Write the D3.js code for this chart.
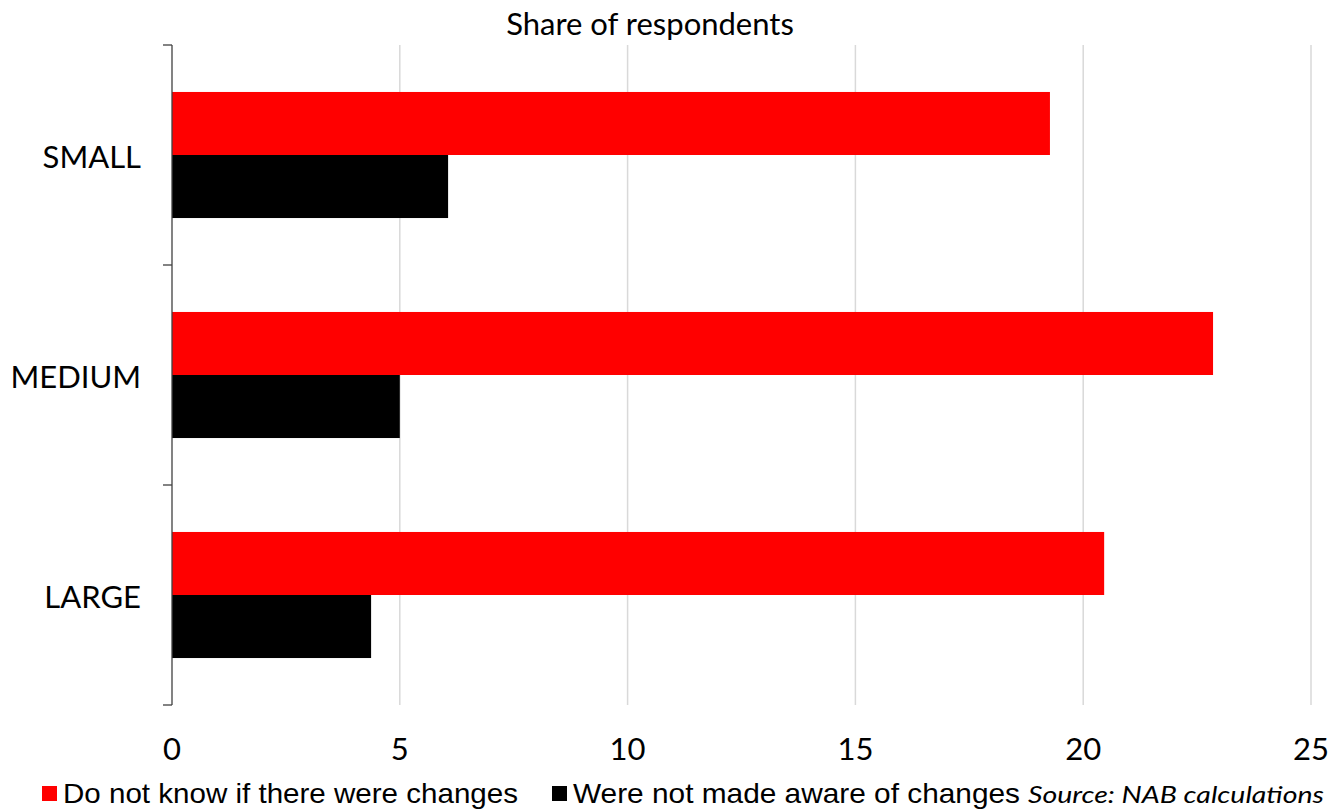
<!DOCTYPE html>
<html><head><meta charset="utf-8">
<script src="https://cdn.jsdelivr.net/npm/d3@7"></script>
<style>body{margin:0;background:#fff}svg{display:block}</style>
</head><body>
<script>
const categories = ["SMALL", "MEDIUM", "LARGE"];
const seriesNames = ["Do not know if there were changes", "Were not made aware of changes"];
const dontKnow = [19.27, 22.85, 20.46];
const notAware = [6.06, 5.0, 4.37];
const xTicks = [0, 5, 10, 15, 20, 25];
const colors = ["#ff0000", "#000000"];

const W = 1333, H = 811;
const m = {left: 172, right: 1311, top: 45, bottom: 705};
const svg = d3.select("body").append("svg").attr("width", W).attr("height", H);

const x = d3.scaleLinear().domain([0, 25]).range([m.left, m.right]);
const y = d3.scaleBand().domain(categories).range([m.top, m.bottom]).paddingInner(0.427).paddingOuter(0.2135);
const y1 = d3.scaleBand().domain([0, 1]).range([0, y.bandwidth()]);

// gridlines
svg.append("g").selectAll("line").data(xTicks.slice(1)).join("line")
  .attr("x1", d => x(d)).attr("x2", d => x(d))
  .attr("y1", m.top).attr("y2", m.bottom)
  .attr("stroke", "#d9d9d9").attr("stroke-width", 1.5);

// bars
const data = categories.map((c, i) => ({c, v: [dontKnow[i], notAware[i]]}));
svg.append("g").selectAll("g").data(data).join("g")
  .attr("transform", d => `translate(0,${y(d.c)})`)
  .selectAll("rect").data(d => d.v).join("rect")
  .attr("x", x(0)).attr("y", (d, i) => y1(i))
  .attr("width", d => x(d) - x(0)).attr("height", y1.bandwidth())
  .attr("fill", (d, i) => colors[i]);

// y axis line and ticks
svg.append("line").attr("x1", x(0)).attr("x2", x(0)).attr("y1", m.top).attr("y2", m.bottom)
  .attr("stroke", "#404040").attr("stroke-width", 1.3);
const bounds = [m.top].concat(categories.map(c => y(c) - y.step() * y.paddingOuter() + y.step()));
svg.append("g").selectAll("line").data(bounds).join("line")
  .attr("x1", x(0) - 9).attr("x2", x(0)).attr("y1", d => d).attr("y2", d => d)
  .attr("stroke", "#404040").attr("stroke-width", 1.3);

const font = "Lato, 'Open Sans', sans-serif";
// category labels
svg.append("g").selectAll("text").data(categories).join("text")
  .attr("x", 141).attr("y", d => y(d) + y.bandwidth() / 2 + 2)
  .attr("dy", "0.35em").attr("text-anchor", "end")
  .attr("font-family", font).attr("font-size", 31).attr("fill", "#000").text(d => d);

// x tick labels
svg.append("g").selectAll("text").data(xTicks).join("text")
  .attr("x", d => x(d)).attr("y", 760).attr("text-anchor", "middle")
  .attr("font-family", font).attr("font-size", 31).attr("fill", "#000").text(d => d);

// subtitle
svg.append("text").attr("x", 650).attr("y", 35).attr("text-anchor", "middle")
  .attr("font-family", font).attr("font-size", 31).attr("fill", "#000").text("Share of respondents");

// legend
const legX = [42, 552], legTextW = [455, 447];
seriesNames.forEach((s, i) => {
  svg.append("rect").attr("x", legX[i]).attr("y", 786).attr("width", 15).attr("height", 15).attr("fill", colors[i]);
  svg.append("text").attr("x", legX[i] + 21).attr("y", 803)
    .attr("font-family", "'Liberation Sans Narrow', 'Liberation Sans', Arial, sans-serif")
    .attr("font-size", 28).attr("textLength", legTextW[i]).attr("lengthAdjust", "spacingAndGlyphs")
    .attr("fill", "#000").text(s);
});
svg.append("text").attr("x", 1028).attr("y", 803)
  .attr("font-family", font).attr("font-style", "italic").attr("font-size", 24)
  .attr("textLength", 296).attr("lengthAdjust", "spacingAndGlyphs").attr("fill", "#000")
  .text("Source: NAB calculations");
</script>
</body></html>
